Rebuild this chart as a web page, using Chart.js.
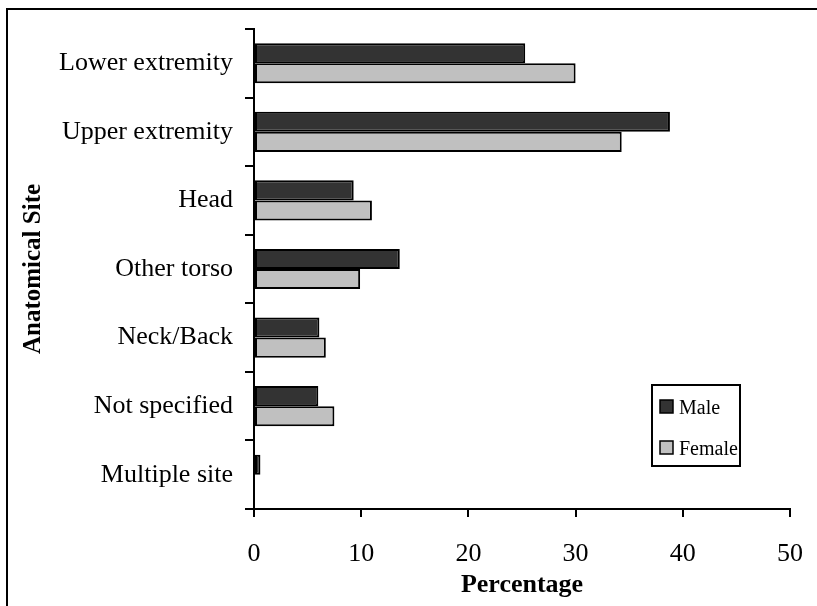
<!DOCTYPE html>
<html lang="en">
<head>
    <meta charset="UTF-8">
    <title>Anatomical Site</title>
    <script src="https://cdn.jsdelivr.net/npm/chart.js"></script>
</head>
<body>
    <style>
        body{
            margin: 0;
            background-color: white;
        }
        canvas{
            display: block;
        }
    </style>
    <canvas id="miCanvas" width="817" height="606"></canvas>
    <script>
        const sites = ["Lower extremity", "Upper extremity", "Head", "Other torso", "Neck/Back", "Not specified", "Multiple site"];
        const male = [25.3, 38.8, 9.3, 13.6, 6.1, 6.0, 0.6];
        const female = [30.0, 34.3, 11.0, 9.9, 6.7, 7.5, 0];
        const xTicks = [0, 10, 20, 30, 40, 50];

        const serif = "'Liberation Serif', 'Times New Roman', serif";

        // outer frame (only top and left edges are visible in the original)
        const framePlugin = {
            id: "frame",
            beforeDraw(chart){
                const c = chart.ctx;
                c.save();
                c.fillStyle = "white";
                c.fillRect(0, 0, chart.width, chart.height);
                c.strokeStyle = "black";
                c.lineWidth = 2;
                c.beginPath();
                c.moveTo(7, chart.height);
                c.lineTo(7, 9);
                c.lineTo(chart.width, 9);
                c.stroke();
                c.restore();
            }
        };

        // boxed legend inside the plot
        const boxLegend = {
            id: "boxLegend",
            afterDraw(chart){
                const c = chart.ctx;
                c.save();
                c.strokeStyle = "black";
                c.lineWidth = 2;
                c.strokeRect(652, 385, 88, 81);
                c.font = "20px " + serif;
                c.textBaseline = "middle";
                const rows = [407, 448];
                chart.data.datasets.forEach((ds, i) => {
                    c.fillStyle = ds.backgroundColor;
                    c.fillRect(660, rows[i] - 7, 13, 13);
                    c.lineWidth = 1.5;
                    c.strokeRect(660, rows[i] - 7, 13, 13);
                    c.fillStyle = "black";
                    c.fillText(ds.label, 679, rows[i] + 2);
                });
                c.restore();
            }
        };

        new Chart(document.getElementById("miCanvas"), {
            type: "bar",
            data: {
                labels: sites,
                datasets: [
                    {
                        label: "Male",
                        data: male,
                        backgroundColor: "#333333",
                        borderColor: "black",
                        borderWidth: 2,
                        borderSkipped: false
                    },
                    {
                        label: "Female",
                        data: female,
                        backgroundColor: "#c0c0c0",
                        borderColor: "black",
                        borderWidth: 2,
                        borderSkipped: false
                    }
                ]
            },
            options: {
                indexAxis: "y",
                responsive: false,
                animation: false,
                layout: {
                    padding: {top: 29, right: 27, left: 0, bottom: 0}
                },
                datasets: {
                    bar: {
                        categoryPercentage: 0.585,
                        barPercentage: 1
                    }
                },
                plugins: {
                    legend: {display: false},
                    tooltip: {enabled: false}
                },
                scales: {
                    x: {
                        min: 0,
                        max: 50,
                        afterFit(axis){
                            axis.height = 97;
                            axis.paddingLeft = 0;
                            axis.paddingRight = 0;
                        },
                        afterBuildTicks(axis){
                            axis.ticks = xTicks.map(v => ({value: v}));
                        },
                        border: {color: "black", width: 2},
                        grid: {
                            drawOnChartArea: false,
                            color: "black",
                            lineWidth: 2,
                            tickLength: 8
                        },
                        ticks: {
                            color: "black",
                            padding: 22,
                            font: {family: serif, size: 26}
                        },
                        title: {
                            display: true,
                            text: "Percentage",
                            color: "black",
                            padding: {top: 0, bottom: 5},
                            font: {family: serif, size: 26, weight: "bold"}
                        }
                    },
                    y: {
                        afterFit(axis){ axis.width = 254; },
                        border: {color: "black", width: 2},
                        grid: {
                            drawOnChartArea: false,
                            color: "black",
                            lineWidth: 2,
                            tickLength: 9
                        },
                        ticks: {
                            color: "black",
                            padding: 12,
                            font: {family: serif, size: 26}
                        },
                        title: {
                            display: true,
                            text: "Anatomical Site",
                            color: "black",
                            padding: {top: 19, bottom: 0},
                            font: {family: serif, size: 25, weight: "bold"}
                        }
                    }
                }
            },
            plugins: [framePlugin, boxLegend]
        });
    </script>
</body>
</html>
